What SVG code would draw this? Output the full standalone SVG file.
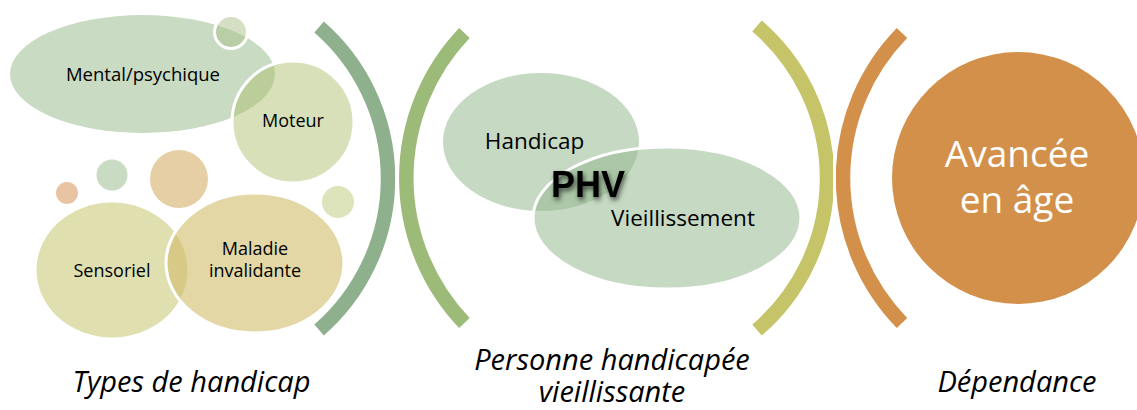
<svg xmlns="http://www.w3.org/2000/svg" width="1137" height="410" viewBox="0 0 1137 410">
<style>
.lbl{font-family:"Open Sans","Liberation Sans",sans-serif;font-size:18px;fill:#000;text-anchor:middle}
.mid{font-size:22.5px}
.cap{font-family:"Open Sans","Liberation Sans",sans-serif;font-style:italic;font-size:29px;fill:#000;text-anchor:middle}
.arc{fill:none;stroke-width:14.5;stroke-linecap:butt}
.ws{stroke:#fff;stroke-width:3}
</style>
<defs>
<clipPath id="c1"><rect x="0" y="0" width="395.5" height="410"/></clipPath>
<clipPath id="c2"><rect x="398" y="0" width="400" height="410"/></clipPath>
<clipPath id="c3"><rect x="0" y="0" width="833" height="410"/></clipPath>
<clipPath id="c4"><rect x="836" y="0" width="301" height="410"/></clipPath>
<filter id="glow" x="-30%" y="-30%" width="160%" height="160%">
<feDropShadow dx="1.5" dy="3" stdDeviation="2.5" flood-color="#000" flood-opacity="0.65"/>
</filter>
</defs>
<g id="connectors">
<path class="arc" clip-path="url(#c1)" d="M319.1,27 A201,201 0 0 1 319.1,330" stroke="#8fb08d"/>
<path class="arc" clip-path="url(#c2)" d="M464.4,33 A210,210 0 0 0 464.4,323" stroke="#9dbb78" stroke-width="15.5"/>
<path class="arc" clip-path="url(#c3)" d="M757,26 A200,200 0 0 1 757,330" stroke="#c6c468"/>
<path class="arc" clip-path="url(#c4)" d="M902,33 A207.7,207.7 0 0 0 902,323" stroke="#d2904a" stroke-width="15.5"/>
</g>
<g id="node-mental">
<ellipse cx="142.5" cy="74" rx="132.5" ry="59" fill="#c9dbc2"/>
<text class="lbl" x="143" y="81" style="font-size:18.5px">Mental/psychique</text>
</g>
<g id="node-dot1">
<circle cx="231" cy="32" r="16.5" class="ws" fill="#a9c08a" fill-opacity="0.5"/>
</g>
<g id="node-moteur">
<circle cx="293" cy="122" r="61" class="ws" fill="#acbe6b" fill-opacity="0.48"/>
<text class="lbl" x="293" y="127">Moteur</text>
</g>
<g id="node-dot2"><circle cx="67" cy="193" r="11" fill="#e8c4a2"/></g>
<g id="node-dot3"><circle cx="112" cy="175" r="15.5" fill="#c9dbc2"/></g>
<g id="node-dot4"><circle cx="179" cy="179" r="29" fill="#e6cea5"/></g>
<g id="node-dot5"><circle cx="338" cy="202" r="16" fill="#dde3ba"/></g>
<g id="node-sensoriel">
<ellipse cx="112" cy="270" rx="75.5" ry="67.5" fill="#dfdfb0"/>
</g>
<g id="node-maladie">
<ellipse cx="255" cy="263" rx="89" ry="70" class="ws" fill="#d0bc6b" fill-opacity="0.6"/>
<text class="lbl" x="112" y="277">Sensoriel</text>
<text class="lbl" x="255" y="255">Maladie</text>
<text class="lbl" x="255" y="277">invalidante</text>
</g>
<g id="node-handicap">
<ellipse cx="541" cy="142" rx="98" ry="69" fill="#c6d9c3"/>
</g>
<g id="node-vieillissement">
<ellipse cx="667" cy="218" rx="134" ry="71" class="ws" fill="#93b78e" fill-opacity="0.53"/>
<text class="lbl mid" x="534.5" y="149">Handicap</text>
<text class="lbl mid" x="683" y="226">Vieillissement</text>
</g>
<g id="node-phv">
<text x="588" y="197" filter="url(#glow)" style="font-family:'Liberation Sans',Arial,sans-serif;font-weight:bold;font-size:36px;text-anchor:middle;fill:#000">PHV</text>
</g>
<g id="node-avancee">
<circle cx="1018" cy="178" r="126" fill="#d2904a"/>
<text x="1017" y="167" style="font-family:'Open Sans','Liberation Sans',sans-serif;font-size:37px;fill:#fff;text-anchor:middle">Avancée</text>
<text x="1017" y="213" style="font-family:'Open Sans','Liberation Sans',sans-serif;font-size:37px;fill:#fff;text-anchor:middle">en âge</text>
</g>
<g id="captions">
<text class="cap" x="191.5" y="392">Types de handicap</text>
<text class="cap" x="612" y="370">Personne handicapée</text>
<text class="cap" x="612" y="402">vieillissante</text>
<text class="cap" x="1017" y="392">Dépendance</text>
</g>
</svg>
